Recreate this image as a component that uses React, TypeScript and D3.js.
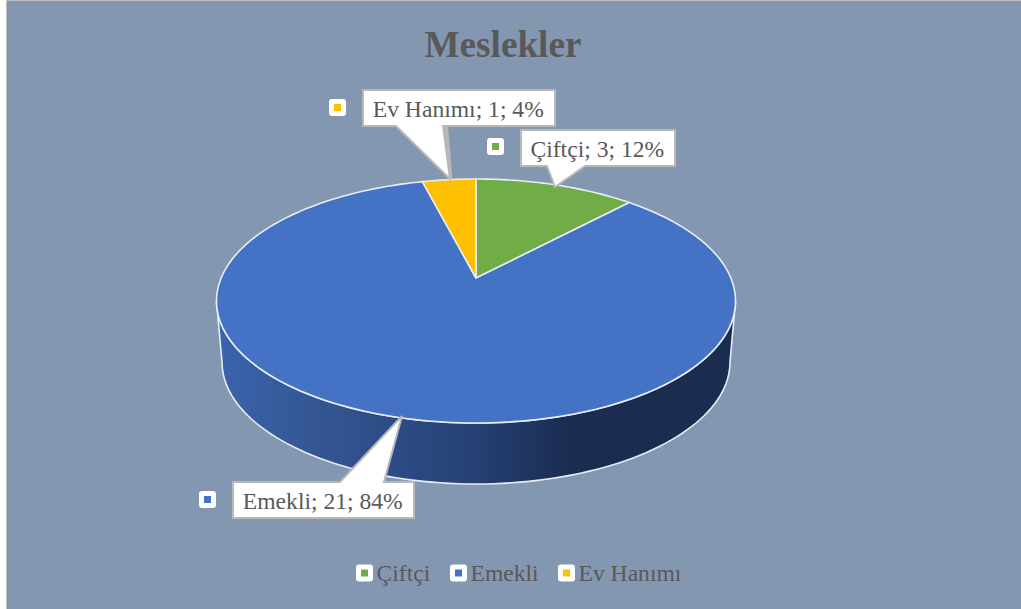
import React from 'react';
import * as d3 from 'd3';

// chart data
const categories = ['Çiftçi', 'Emekli', 'Ev Hanımı'];
const values = [3, 21, 1];
const percents = [12, 84, 4];
const colors = ['#70AD47', '#4472C4', '#FFC000'];
const title = 'Meslekler';

const W = 1021;
const H = 609;
const FONT = '"Liberation Serif", "Times New Roman", serif';
const TEXT = '#595959';
const LINE = '#B8B8B8';
const EDGE = '#E8EDF5';

// top face of the pie, the flat circle is seen in perspective
const cx = 476;
const cy = 301;
const rx = 259.5;
const ry = 122;
const apexY = 278;
const k = (apexY - cy) / ry;
const ax = rx * Math.sqrt(1 - k * k);

// bottom edge of the side wall
const low = { cx: 476, cy: 362, rx: 254, ry: 122 };

const project = (a: number): [number, number] => {
  const u = Math.sin(a);
  const v = -Math.cos(a);
  const d = 1 + k * v;
  return [cx + (ax * u) / d, cy + (ry * v + apexY - cy) / d];
};

const pie = d3.pie<number>().sort(null);
const arcs = pie(values);
const line = d3.line();

const slicePath = (start: number, end: number) => {
  const pts: [number, number][] = [[cx, apexY]];
  const n = Math.max(8, Math.ceil((end - start) * 40));
  d3.range(n + 1).forEach((i) => pts.push(project(start + ((end - start) * i) / n)));
  return line(pts) + 'Z';
};

const wallPath = () => {
  const pts: [number, number][] = [];
  d3.range(0, 181, 2).forEach((deg) => {
    const t = (deg * Math.PI) / 180;
    pts.push([cx + rx * Math.cos(t), cy + ry * Math.sin(t)]);
  });
  const lower: [number, number][] = [];
  d3.range(180, -1, -2).forEach((deg) => {
    const t = (deg * Math.PI) / 180;
    lower.push([low.cx + low.rx * Math.cos(t), low.cy + low.ry * Math.sin(t)]);
  });
  return line([...pts, ...lower]) + 'Z';
};

// callouts: box, pointer base and tip
const callouts = [
  { i: 0, x: 521, y: 130, w: 154, h: 36, base: [547, 585], tip: [555, 187], key: [495.5, 146.5], side: 'bottom' },
  { i: 1, x: 233, y: 482, w: 181, h: 36, base: [340, 384], tip: [402, 416], key: [207.5, 499.5], side: 'top' },
  { i: 2, x: 363, y: 90, w: 192, h: 36, base: [396, 443], tip: [450, 179], key: [337.5, 107.5], side: 'bottom' },
];

const legendX = [356, 450, 558];

const Key = ({ x, y, color }: { x: number; y: number; color: string }) => (
  <g>
    <rect x={x - 8.5} y={y - 8.5} width={17} height={17} rx={3} fill="#fff" />
    <rect x={x - 3.5} y={y - 3.5} width={7} height={7} fill={color} />
  </g>
);

const App = () => {
  return (
    <svg
      width={W}
      height={H}
      style={{ position: 'absolute', left: 0, top: 0, background: '#fff' }}
      fontFamily={FONT}
    >
      <defs>
        <linearGradient id="wall" gradientUnits="userSpaceOnUse" x1={cx - rx} x2={cx + rx} y1={0} y2={0}>
          <stop offset="0" stopColor="#3A64AE" />
          <stop offset="0.22" stopColor="#33548F" />
          <stop offset="0.35" stopColor="#2C4B85" />
          <stop offset="0.5" stopColor="#264073" />
          <stop offset="0.68" stopColor="#1A2C50" />
          <stop offset="1" stopColor="#1A2C50" />
        </linearGradient>
      </defs>
      <rect x={6.5} y={0.5} width={W} height={H} fill="#8497B0" stroke="#BFBFBF" />
      <text x={503} y={56.5} textAnchor="middle" fontSize={37.2} fontWeight="bold" fill={TEXT}>
        {title}
      </text>

      <path d={wallPath()} fill="url(#wall)" stroke={EDGE} strokeWidth={1.6} />
      {arcs.map((a, i) => (
        <path
          key={categories[i]}
          d={slicePath(a.startAngle, a.endAngle)}
          fill={colors[i]}
          stroke={EDGE}
          strokeWidth={1.6}
          strokeLinejoin="round"
        />
      ))}

      {callouts.map((c) => {
        const yb = c.side === 'bottom' ? c.y + c.h : c.y;
        const outline = [
          [c.x, c.y],
          ...(c.side === 'top' ? [[c.base[0], yb], c.tip, [c.base[1], yb]] : []),
          [c.x + c.w, c.y],
          [c.x + c.w, c.y + c.h],
          ...(c.side === 'bottom' ? [[c.base[1], yb], c.tip, [c.base[0], yb]] : []),
          [c.x, c.y + c.h],
        ] as [number, number][];
        return (
          <g key={c.i}>
            {c.i === 2 && (
              <path
                d={line([[c.base[1] + 3, yb], [c.tip[0] + 0.5, c.tip[1]]]) as string}
                stroke={LINE}
                strokeWidth={4}
                fill="none"
              />
            )}
            <path d={line(outline) + 'Z'} fill="#fff" stroke={LINE} strokeWidth={2} />
            <text
              x={c.x + c.w / 2 - 0.7}
              y={c.y + c.h / 2 + 9}
              textAnchor="middle"
              fontSize={23.6}
              fill={TEXT}
            >
              {`${categories[c.i]}; ${values[c.i]}; ${percents[c.i]}%`}
            </text>
            <Key x={c.key[0]} y={c.key[1]} color={colors[c.i]} />
          </g>
        );
      })}

      {categories.map((name, i) => (
        <g key={name}>
          <Key x={legendX[i] + 8.5} y={573} color={colors[i]} />
          <text x={legendX[i] + 20.5} y={581} fontSize={23.6} fill={TEXT}>
            {name}
          </text>
        </g>
      ))}
    </svg>
  );
};

export default App;
